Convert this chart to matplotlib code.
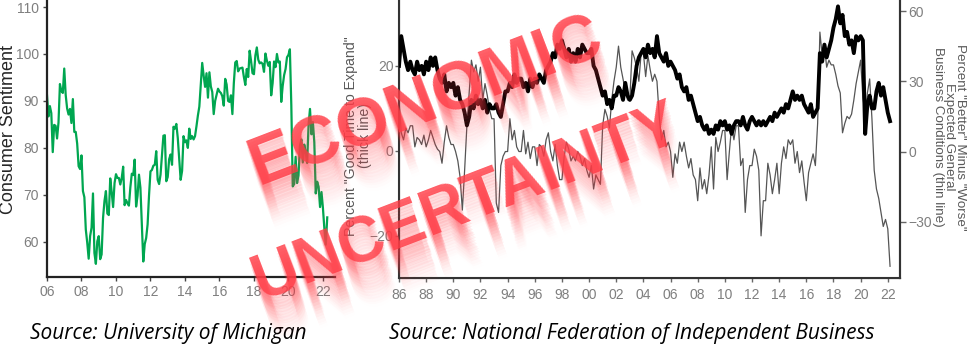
import numpy as np
import matplotlib
matplotlib.use('Agg')
import matplotlib.pyplot as plt
from matplotlib import transforms

W, H = 968, 357

# University of Michigan consumer sentiment, monthly from Jan 2006
sentiment = [
    91.2, 86.7, 88.9, 87.4, 79.1, 84.9, 84.7, 82.0, 85.4, 93.6, 92.1, 91.7,
    96.9, 91.3, 88.4, 87.1, 88.3, 85.3, 90.4, 83.4, 83.4, 80.9, 76.1, 75.5,
    78.4, 70.8, 69.5, 62.6, 59.8, 56.4, 61.2, 63.0, 70.3, 57.6, 55.3, 60.1,
    61.2, 56.3, 57.3, 65.1, 68.7, 70.8, 66.0, 65.7, 73.5, 70.6, 67.4, 72.5,
    74.4, 73.6, 73.6, 72.2, 73.6, 76.0, 67.8, 68.9, 68.2, 67.7, 71.6, 74.5,
    74.2, 77.5, 67.5, 69.8, 74.3, 71.5, 63.7, 55.8, 59.5, 60.8, 63.7, 69.9,
    75.0, 75.3, 76.2, 76.4, 79.3, 73.2, 72.3, 74.3, 78.3, 82.6, 82.7, 72.9,
    73.8, 77.6, 78.6, 76.4, 84.5, 84.1, 85.1, 82.1, 77.5, 73.2, 75.1, 82.5,
    81.2, 81.6, 80.0, 84.1, 81.9, 82.5, 81.8, 82.5, 84.6, 86.9, 88.8, 93.6,
    98.1, 95.4, 93.0, 95.9, 90.7, 96.1, 93.1, 91.9, 87.2, 90.0, 91.3, 92.6,
    92.0, 91.7, 91.0, 89.0, 94.7, 93.5, 90.0, 89.8, 91.2, 87.2, 93.8, 98.2,
    98.5, 96.3, 96.9, 97.0, 97.1, 95.1, 93.4, 96.8, 95.1, 100.7, 98.5, 95.9,
    95.7, 99.7, 101.4, 98.8, 98.0, 98.2, 97.9, 96.2, 100.1, 98.6, 97.5, 98.3,
    91.2, 93.8, 98.4, 97.2, 100.0, 98.2, 98.4, 89.8, 93.2, 95.5, 96.8, 99.3,
    99.8, 101.0, 89.1, 71.8, 72.3, 78.1, 72.5, 74.1, 80.4, 81.8, 76.9, 80.7,
    79.0, 76.8, 84.9, 88.3, 82.9, 85.5, 81.2, 70.3, 72.8, 71.7, 67.4, 70.6,
    67.2, 62.8, 59.4, 65.2,
]

# NFIB, every second month from Jan 1986
good_time_expand = [
    20, 27, 24, 21, 19, 21,  19, 18, 21, 19, 20, 18,  21, 19, 22, 20, 22, 19,
    17, 16, 18, 14, 16, 15,  16, 13, 15, 12, 11, 9,   6, 8, 12, 10, 13, 11,
    12, 10, 12, 9, 11, 10,   10, 11, 9, 8, 11, 14,    14, 16, 15, 18, 16, 17,
    17, 15, 16, 14, 17, 15,  17, 16, 18, 17, 16, 19,  20, 21, 23, 22, 25, 24,
    26, 24, 22, 24, 21, 23,  21, 24, 22, 25, 24, 23,  23, 24, 20, 19, 17, 15,
    13, 14, 11, 12, 10, 13,  13, 15, 14, 12, 16, 13,  12, 13, 16, 20, 22, 23,
    24, 22, 25, 23, 24, 22,  27, 23, 22, 21, 23, 20,  21, 20, 19, 17, 18, 15,
    14, 15, 12, 13, 11, 9,   7, 8, 6, 5, 6, 4,        5, 4, 6, 5, 7, 6,
    7, 5, 6, 4, 6, 7,        7, 6, 8, 6, 5, 7,        8, 7, 6, 7, 6, 7,
    6, 7, 8, 7, 9, 8,        9, 10, 9, 11, 10, 12,    14, 12, 13, 12, 13, 11,
    10, 9, 11, 8, 9, 10,     23, 21, 25, 22, 24, 26,  29, 31, 34, 30, 32, 27,
    28, 25, 26, 23, 27, 26,  27, 26, 4, 11, 13, 10,   10, 14, 16, 13, 15, 12,
    9, 7,
]
expected_conditions = [
    22, 8, 5, 10, 8, 11,     11, 2, 6, 5, 3, 7,       2, 5, 9, 6, 3, 1,
    0, -5, 4, 11, 6, 3,      3, 0, -4, -11, -25, -8,  11, 25, 39, 34, 37, 30,
    36, 22, 29, 24, 18, 14,  14, -22, -26, -6, -2, 0, 0, 14, 5, 9, 2, 0,
    0, 9, -1, 4, -3, 2,      2, -6, 3, 2, -2, 5,      8, 0, -4, 3, -6, -12,
    -12, -2, 4, 1, -4, -2,   -4, 0, -2, -6, -3, -8,   -11, -6, -16, -10, -12, -14,
    11, 18, 15, 10, 22, 30,  36, 45, 36, 31, 26, 22,  22, 43, 40, 36, 30, 42,
    42, 32, 41, 35, 30, 33,  30, 15, 5, 9, 2, 4,      0, -11, -1, -5, 4, 0,
    4, -2, -7, -3, -10, -12, -21, -7, -16, -12, -18, -10,  2, -16, 6, 0, 4, 9,
    9, -12, 0, 11, 5, 11,    11, -6, -3, -26, -12, -6, -6, 1, -2, -8, -36, -21,
    -21, -5, -10, -18, -12, -5,  -18, -5, 2, -3, 5, 3,  5, -5, 0, -9, -4, -13,
    -21, -9, -5, -1, -6, 12, 51, 41, 45, 36, 39, 37,  37, 33, 28, 25, 8, 12,
    15, 14, 16, 22, 29, 34,  39, 23, 16, 25, 31, 14,  -8, -16, -20, -26, -32, -29,
    -33, -49,
]

left_years = list(range(2006, 2023, 2))
right_years = list(range(1986, 2023, 2))

plt.rcParams['font.family'] = ['Liberation Sans', 'DejaVu Sans']

fig = plt.figure(figsize=(W / 100, H / 100), dpi=100)


def box(x0, x1, y0, y1):
    return [x0 / W, 1 - y1 / H, (x1 - x0) / W, (y1 - y0) / H]


# --- left panel: consumer sentiment
ax1 = fig.add_axes(box(47, 335, 0, 277))
x_sent = 2006 + np.arange(len(sentiment)) / 12
ax1.plot(x_sent, sentiment, color='#00A650', lw=1.6)
ax1.set_xlim(2006, 2022.7)
ax1.set_ylim(52.5, 111.5)
ax1.set_yticks([60, 70, 80, 90, 100, 110])
ax1.set_xticks(left_years)
ax1.set_xticklabels([f'{y % 100:02d}' for y in left_years])
for s in ['top', 'right']:
    ax1.spines[s].set_visible(False)
for s in ['left', 'bottom']:
    ax1.spines[s].set_linewidth(1.6)
    ax1.spines[s].set_color('#222222')
ax1.tick_params(labelsize=10, labelcolor='#7f7f7f', length=3, width=1, color='#444444', pad=3)

fig.text(9 / W, 1 - 130 / H, 'Consumer Sentiment', rotation=90, ha='center', va='center',
         fontsize=13, color='#262626')

# --- right panel: NFIB
ax2 = fig.add_axes(box(399, 900, 0, 278))
x_nfib = 1986 + np.arange(len(good_time_expand)) / 6
ax2.plot(x_nfib, good_time_expand, color='black', lw=2.8, zorder=3)
ax2.set_xlim(1986, 2022.9)
ax2.set_ylim(-29.9, 35.5)
ax2.set_yticks([-20, 0, 20])
ax2.set_xticks(right_years)
ax2.set_xticklabels([f'{y % 100:02d}' for y in right_years])
ax2.spines['top'].set_visible(False)
for s in ['left', 'bottom', 'right']:
    ax2.spines[s].set_linewidth(1.5)
    ax2.spines[s].set_color('#333333')
ax2.tick_params(labelsize=10, labelcolor='#7f7f7f', length=3, width=1, color='#666666', pad=1)
ax2.tick_params(axis='x', pad=4)

ax3 = ax2.twinx()
x_exp = 1986 + np.arange(len(expected_conditions)) / 6
ax3.plot(x_exp, expected_conditions, color='#555555', lw=0.9, zorder=2)
ax3.set_ylim(-54, 64.7)
ax3.set_yticks([-30, 0, 30, 60])
ax3.spines['top'].set_visible(False)
ax3.spines['right'].set_linewidth(1.5)
ax3.spines['right'].set_color('#333333')
ax3.tick_params(labelsize=10, labelcolor='#7f7f7f', length=4, width=1, color='#666666', pad=2)
ax2.set_zorder(ax3.get_zorder() + 1)
ax2.patch.set_visible(False)

fig.text(358 / W, 1 - 136 / H, 'Percent "Good Time to Expand"\n(thick line)', rotation=90,
         ha='center', va='center', multialignment='center', fontsize=10.2, color='#595959',
         linespacing=1.05)
fig.text(949 / W, 1 - 137 / H, 'Percent "Better" Minus "Worse"\nExpected General\nBusiness Conditions (thin line)',
         rotation=-90, ha='center', va='center', multialignment='center', fontsize=9.6,
         color='#595959', linespacing=0.92)

# --- captions
cap_font = ['Open Sans', 'DejaVu Sans']
fig.text(30 / W, 1 - 333 / H, 'Source: University of Michigan', style='italic',
         family=cap_font, fontsize=15, ha='left', va='center', color='black')
fig.text(389 / W, 1 - 333 / H, 'Source: National Federation of Independent Business', style='italic',
         family=cap_font, fontsize=15, ha='left', va='center', color='black')

# --- overlay stamp with a fading shadow
red = '#FF3C46'
stamp_font = ['Liberation Sans', 'DejaVu Sans']


def stamp(word, cx, cy, size):
    x, y = cx / W, 1 - cy / H
    n = 16
    for k in range(n, 0, -1):
        tr = transforms.offset_copy(fig.transFigure, x=k * 0.8, y=-k * 2.8, units='dots')
        fig.text(x, y, word, transform=tr, rotation=21, rotation_mode='anchor',
                 ha='center', va='center', fontsize=size, fontweight='bold',
                 family=stamp_font, color=red, alpha=0.12 * (1 - k / (n + 1)))
    fig.text(x, y, word, rotation=21, rotation_mode='anchor', ha='center', va='center',
             fontsize=size, fontweight='bold', family=stamp_font,
             color=red, alpha=0.82)


stamp('ECONOMIC', 426, 102, 49)
stamp('UNCERTAINTY', 466, 204, 46)

fig.savefig('out.png', dpi=100)
